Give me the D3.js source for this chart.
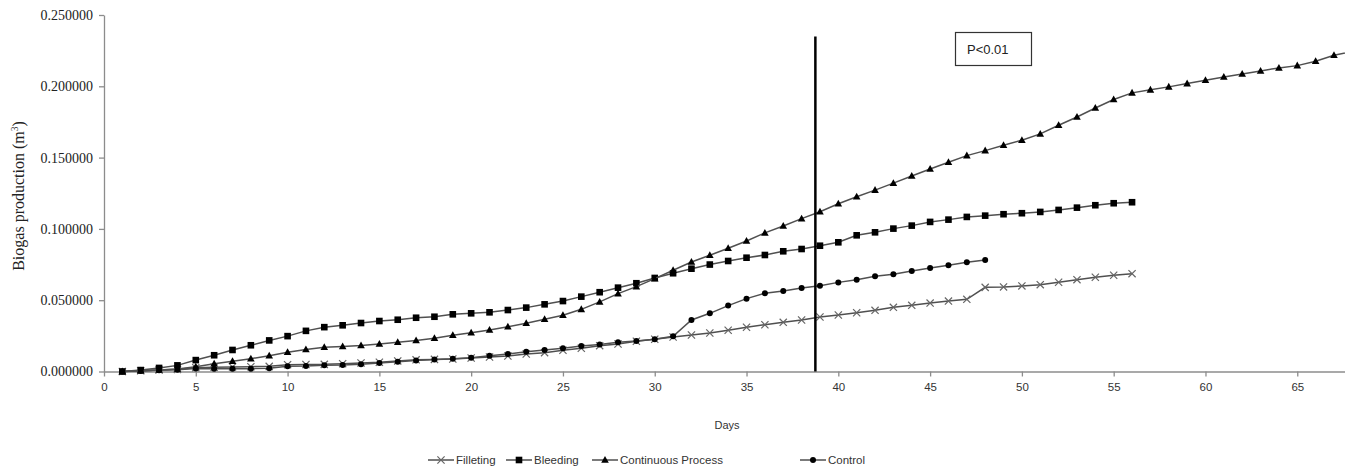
<!DOCTYPE html>
<html><head><meta charset="utf-8">
<script src="https://cdn.jsdelivr.net/npm/d3@7"></script>
<style>body{margin:0;background:#fff}svg{display:block}</style>
</head><body>
<svg id="c" width="1345" height="467"></svg>
<script>
const filleting = [0,0.0005,0.001,0.0015,0.0027,0.003,0.0032,0.0034,0.0036,0.0048,0.0049,0.005,0.0055,0.006,0.0065,0.0074,0.0082,0.0085,0.0088,0.0095,0.0102,0.0109,0.0123,0.0132,0.0149,0.0163,0.0181,0.0193,0.0212,0.0226,0.0242,0.0256,0.027,0.0289,0.031,0.0328,0.0345,0.0361,0.0382,0.0396,0.0412,0.0429,0.045,0.0464,0.048,0.0494,0.0506,0.059,0.0593,0.06,0.0609,0.0626,0.0644,0.0661,0.0675,0.0686];
const bleeding = [0,0.001,0.0025,0.0043,0.008,0.0114,0.0151,0.0184,0.0218,0.0248,0.0285,0.0311,0.0324,0.034,0.0354,0.0363,0.0377,0.0384,0.0401,0.0408,0.0415,0.0431,0.0448,0.0471,0.0494,0.0525,0.0556,0.0588,0.0619,0.0656,0.0689,0.0721,0.075,0.0775,0.0798,0.0817,0.0843,0.0859,0.0882,0.0906,0.0955,0.0976,0.1002,0.1023,0.1049,0.1065,0.1084,0.1093,0.1103,0.111,0.1119,0.1133,0.1149,0.1166,0.118,0.1187];
const continuous = [0,0.0006,0.001,0.0018,0.0034,0.0055,0.0072,0.009,0.0111,0.0135,0.0155,0.017,0.0176,0.0183,0.0193,0.0205,0.0217,0.0233,0.0254,0.0272,0.0291,0.0314,0.0338,0.0366,0.0394,0.0436,0.0488,0.0546,0.0595,0.0651,0.071,0.0768,0.0815,0.0864,0.0915,0.0972,0.102,0.1072,0.112,0.1176,0.1225,0.1272,0.1321,0.1371,0.142,0.1467,0.1514,0.1549,0.1587,0.1622,0.1666,0.1727,0.1785,0.1848,0.1907,0.1954,0.1975,0.1996,0.2019,0.2043,0.2066,0.2087,0.2108,0.2129,0.2145,0.2176,0.2218,0.2245];
const control = [0,0.0003,0.0008,0.0012,0.0021,0.002,0.002,0.002,0.0022,0.0036,0.0038,0.0043,0.0045,0.005,0.006,0.0069,0.0078,0.0084,0.0089,0.0097,0.0111,0.0123,0.0139,0.0151,0.0163,0.0179,0.019,0.0205,0.0214,0.0226,0.0247,0.0361,0.0408,0.0462,0.0511,0.0549,0.0565,0.0586,0.0602,0.0625,0.0644,0.0668,0.0682,0.0705,0.0726,0.0745,0.0766,0.0782];
const seriesNames = ["Filleting","Bleeding","Continuous Process","Control"];
const seriesMarkers = ["x","square","triangle","circle"];
const xTicks = [0,5,10,15,20,25,30,35,40,45,50,55,60,65];
const yTicks = [0,0.05,0.1,0.15,0.2,0.25];
const markerDay = 38.75, markerTop = 0.235;
const annotationText = "P<0.01";
const xTitle = "Days";

const seriesData = [filleting, bleeding, continuous, control];
const svg = d3.select("#c");
const x = d3.scaleLinear().domain([0, 67.6]).range([104, 1345]);
const y = d3.scaleLinear().domain([0, 0.25]).range([371.5, 15]);
const sans = "'Liberation Sans', Arial, sans-serif";
const serif = "'Liberation Serif', 'Times New Roman', serif";

// axes
const xAxis = svg.append("g").attr("transform","translate(0,371.5)")
  .call(d3.axisBottom(x).tickValues(xTicks).tickSize(5).tickSizeOuter(0).tickFormat(d3.format("d")));
xAxis.select(".domain").attr("stroke","#8c8c8c").attr("stroke-width",1.3);
xAxis.selectAll(".tick line").attr("stroke","#8c8c8c").attr("stroke-width",1.3);
xAxis.selectAll(".tick text").attr("font-family",sans).attr("font-size",11.5).attr("fill","#333").attr("y",11).attr("dy","0.71em");

const yAxis = svg.append("g").attr("transform","translate(104,0)")
  .call(d3.axisLeft(y).tickValues(yTicks).tickSize(5).tickSizeOuter(0).tickFormat(d3.format(".6f")));
yAxis.select(".domain").attr("stroke","#8c8c8c").attr("stroke-width",1.3);
yAxis.selectAll(".tick line").attr("stroke","#8c8c8c").attr("stroke-width",1.3);
yAxis.selectAll(".tick text").attr("font-family",serif).attr("font-size",14).attr("fill","#222").attr("x",-11);

// titles
const yt = svg.append("text").attr("transform","translate(24,196) rotate(-90)")
  .attr("text-anchor","middle").attr("font-family",serif)
  .attr("font-size",16).attr("fill","#222");
yt.append("tspan").text("Biogas  production  (m");
yt.append("tspan").attr("font-size",9.5).attr("dy",-6).text("3");
yt.append("tspan").attr("dy",6).text(")");

svg.append("text").attr("x",727).attr("y",429).attr("text-anchor","middle")
  .attr("font-family",sans).attr("font-size",11).attr("fill","#333").text(xTitle);

// marker drawing
function drawMarker(g, type, cx, cy) {
  if (type === "square") {
    g.append("rect").attr("x",cx-3.3).attr("y",cy-3.3).attr("width",6.6).attr("height",6.6).attr("fill","#000");
  } else if (type === "triangle") {
    g.append("path").attr("d",`M${cx},${cy-4}L${cx+3.8},${cy+2.8}L${cx-3.8},${cy+2.8}Z`).attr("fill","#000");
  } else if (type === "circle") {
    g.append("circle").attr("cx",cx).attr("cy",cy).attr("r",3).attr("fill","#000");
  } else {
    g.append("path").attr("d",`M${cx-3.6},${cy-3.6}L${cx+3.6},${cy+3.6}M${cx-3.6},${cy+3.6}L${cx+3.6},${cy-3.6}`)
      .attr("stroke","#666").attr("stroke-width",1.2).attr("fill","none");
  }
}

const line = d3.line().x((d,i)=>x(i+1)).y(d=>y(d));
seriesData.forEach((arr, si) => {
  const g = svg.append("g");
  g.append("path").datum(arr).attr("d",line).attr("fill","none").attr("stroke","#505050").attr("stroke-width",1.5);
  arr.forEach((v,i)=>drawMarker(g, seriesMarkers[si], x(i+1), y(v)));
});

// vertical marker line
svg.append("line").attr("x1",x(markerDay)).attr("x2",x(markerDay)).attr("y1",y(markerTop)).attr("y2",y(0))
  .attr("stroke","#000").attr("stroke-width",2.5);

// annotation box
svg.append("rect").attr("x",955.5).attr("y",32.5).attr("width",76).attr("height",33)
  .attr("fill","#fff").attr("stroke","#333").attr("stroke-width",1.2);
svg.append("text").attr("x",967).attr("y",53.5).attr("font-family",sans)
  .attr("font-size",13).attr("fill","#222").text(annotationText);

// legend
const legendX = [428, 506, 592, 800];
seriesNames.forEach((name, i) => {
  const g = svg.append("g");
  const lx = legendX[i], ly = 460;
  g.append("line").attr("x1",lx).attr("x2",lx+26).attr("y1",ly).attr("y2",ly).attr("stroke","#333").attr("stroke-width",1.3);
  drawMarker(g, seriesMarkers[i], lx+13, ly);
  g.append("text").attr("x",lx+28).attr("y",ly+4).attr("font-family",sans)
    .attr("font-size",11.5).attr("fill","#333").text(name);
});
</script>
</body></html>
